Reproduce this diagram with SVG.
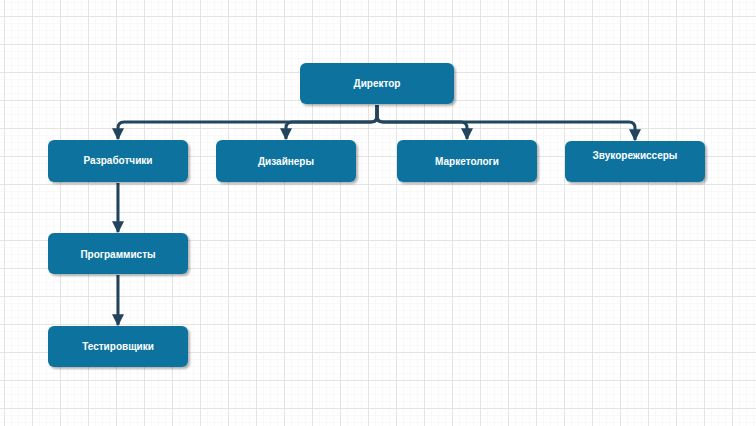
<svg xmlns="http://www.w3.org/2000/svg" width="756" height="426" viewBox="0 0 756 426">
<defs>
<pattern id="minor" x="4" y="16" width="7" height="7" patternUnits="userSpaceOnUse">
<path d="M0 0H7M0 0V7" fill="none" stroke="#f3f3f3" stroke-width="1"/>
</pattern>
<pattern id="major" x="4" y="16" width="28" height="28" patternUnits="userSpaceOnUse">
<path d="M0 0.5H28M0.5 0V28" fill="none" stroke="#e4e4e4" stroke-width="1"/>
</pattern>
<marker id="arr" viewBox="0 0 10 10" refX="9" refY="5" markerWidth="4" markerHeight="4" orient="auto" markerUnits="strokeWidth">
<path d="M0 0L10 5L0 10Z" fill="#23445d"/>
</marker>
<filter id="sh" x="-10%" y="-10%" width="130%" height="140%">
<feDropShadow dx="2" dy="2" stdDeviation="0.8" flood-color="#000" flood-opacity="0.3"/>
</filter>
</defs>
<style>
.box{fill:#10739e;filter:url(#sh)}
.lbl{font-family:"Liberation Sans",Arial,sans-serif;font-size:10px;font-weight:bold;fill:#fff;text-anchor:middle;dominant-baseline:central}
.con{fill:none;stroke:#23445d;stroke-width:3;stroke-linejoin:round}
</style>
<rect width="756" height="426" fill="#fff"/>
<rect width="756" height="426" fill="url(#minor)"/>
<rect width="756" height="426" fill="url(#major)"/>
<g id="connectors">
<path class="con" d="M377 105V116Q377 122 371 122H124Q118 122 118 128V139" marker-end="url(#arr)"/>
<path class="con" d="M377 105V116Q377 122 371 122H292Q286 122 286 128V139" marker-end="url(#arr)"/>
<path class="con" d="M377 105V116Q377 122 383 122H461Q467 122 467 128V139" marker-end="url(#arr)"/>
<path class="con" d="M377 105V116Q377 122 383 122H629Q635 122 635 128V140" marker-end="url(#arr)"/>
<path class="con" d="M118 183V232" marker-end="url(#arr)"/>
<path class="con" d="M118 275V325" marker-end="url(#arr)"/>
</g>
<g id="director"><rect class="box" x="300" y="63" width="154" height="41" rx="6"/><text class="lbl" x="377" y="83">Директор</text></g>
<g id="developers"><rect class="box" x="48" y="140" width="140" height="42" rx="6"/><text class="lbl" x="118" y="160">Разработчики</text></g>
<g id="designers"><rect class="box" x="216" y="140" width="140" height="42" rx="6"/><text class="lbl" x="286" y="161">Дизайнеры</text></g>
<g id="marketers"><rect class="box" x="397" y="140" width="140" height="42" rx="6"/><text class="lbl" x="467" y="161">Маркетологи</text></g>
<g id="sound"><rect class="box" x="565" y="141" width="140" height="41" rx="6"/><text class="lbl" x="635" y="155">Звукорежиссеры</text></g>
<g id="programmers"><rect class="box" x="48" y="233" width="140" height="41" rx="6"/><text class="lbl" x="118" y="254">Программисты</text></g>
<g id="testers"><rect class="box" x="48" y="326" width="140" height="41" rx="6"/><text class="lbl" x="118" y="346">Тестировщики</text></g>
</svg>
